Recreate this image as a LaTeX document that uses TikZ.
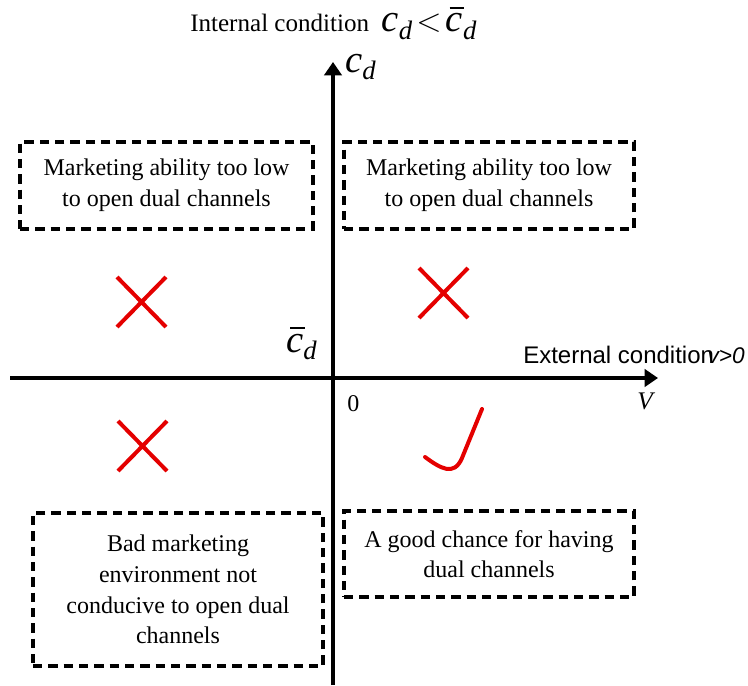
\documentclass[tikz,border=0pt]{standalone}
\usepackage{fontspec}
\setmainfont{Liberation Serif}
\newfontfamily\arialfont{Liberation Sans}
\usetikzlibrary{arrows.meta}
\definecolor{xred}{RGB}{228,0,0}
\newcommand{\myc}{\textit{c}}
\newcommand{\mybarc}{\rlap{\hspace{0.1em}\rule[0.6em]{0.38em}{0.045em}}\textit{c}}
\newcommand{\mysub}[1]{\raisebox{-0.3em}{\fontsize{20}{20}\selectfont\textit{#1}}}
\tikzset{
  axis/.style={line width=2.3pt,-{Triangle[length=10pt,width=13pt]}},
  infobox/.style={draw=black,line width=2.4pt,dash pattern=on 7pt off 4.5pt,
    align=center,font=\fontsize{18}{23}\selectfont,inner sep=0pt},
  cross/.style={draw=xred,line width=3pt},
  lbl/.style={inner sep=0pt,font=\fontsize{18}{22}\selectfont}
}
\begin{document}
\begin{tikzpicture}[x=0.75pt,y=-0.75pt]
\useasboundingbox (0,0) rectangle (748,685);
% axes
\coordinate (xs) at (10,378);
\coordinate (xe) at (658,378);
\coordinate (ys) at (333,685);
\coordinate (ye) at (333,62);
\draw[axis] (xs) -- (xe);
\draw[axis] (ys) -- (ye);
% boxes
\node[infobox,minimum width=219.75pt,minimum height=65.25pt] (tl) at (166.5,185.5)
  {Marketing ability too low\\to open dual channels};
\node[infobox,minimum width=217.5pt,minimum height=65.25pt] (tr) at (489,185.5)
  {Marketing ability too low\\to open dual channels};
\node[infobox,minimum width=217.5pt,minimum height=114.75pt] (bl) at (178,589.5)
  {Bad marketing\\environment not\\conducive to open dual\\channels};
\node[infobox,minimum width=217.5pt,minimum height=64.5pt] (br) at (489,554)
  {A good chance for having\\dual channels};
% crosses
\draw[cross] (117,277) -- (166,327) (166,277) -- (117,327);
\draw[cross] (419,268) -- (468,318) (468,268) -- (419,318);
\draw[cross] (118,421) -- (167,471) (167,421) -- (118,471);
% check
\draw[draw=xred,line width=3pt,line cap=round] (425,457) .. controls (440,468) and (454,477) .. (462,458) -- (482,409);
% labels
\node[lbl,anchor=base west,font=\fontsize{18.8}{22}\selectfont] (top) at (190,32)
  {Internal condition\ \ {\fontsize{29}{29}\selectfont\myc}\mysub{d}\,{\fontsize{30}{30}\selectfont$<$}\,{\fontsize{29}{29}\selectfont\mybarc}\mysub{d}};
\node[lbl,anchor=base west] (ycd) at (345,72)
  {{\fontsize{29}{29}\selectfont\myc}\mysub{d}};
\node[lbl,anchor=base west] (cbar) at (286,352)
  {{\fontsize{29}{29}\selectfont\mybarc}\mysub{d}};
\node[lbl,anchor=base west,font=\arialfont\fontsize{18}{22}\selectfont] (ext) at (523,363) {External condition};
\node[lbl,anchor=base east,font=\arialfont\itshape\fontsize{17}{22}\selectfont] (vpos) at (745,363) {v>0};
\node[lbl,anchor=base west] (zero) at (347,411) {0};
\node[lbl,anchor=base west,font=\fontsize{19}{22}\selectfont\itshape] (vv) at (637,409) {V};
\end{tikzpicture}
\end{document}
